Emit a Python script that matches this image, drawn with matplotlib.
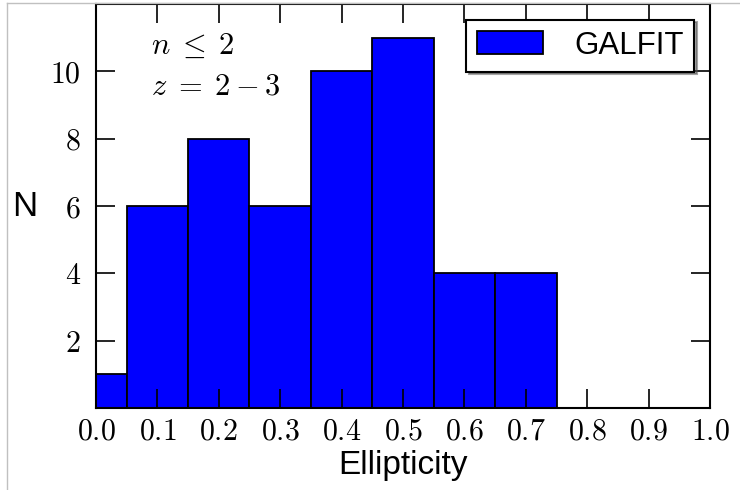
import matplotlib
matplotlib.use("Agg")
import matplotlib.pyplot as plt
from matplotlib.lines import Line2D
import numpy as np

# ellipticity histogram, n <= 2, z = 2-3
bin_edges = [0.0, 0.05, 0.15, 0.25, 0.35, 0.45, 0.55, 0.65, 0.75]
counts = [1, 6, 8, 6, 10, 11, 4, 4]
x_ticks = [0.0, 0.1, 0.2, 0.3, 0.4, 0.5, 0.6, 0.7, 0.8, 0.9, 1.0]
y_ticks = [2, 4, 6, 8, 10]

plt.rcParams['mathtext.fontset'] = 'cm'
plt.rcParams['font.family'] = ['Liberation Sans', 'DejaVu Sans']

fig = plt.figure(figsize=(7.4, 4.9), dpi=100)
ax = fig.add_axes([0.1297, 0.1673, 0.8298, 0.8245])

edges = np.array(bin_edges)
ax.bar(edges[:-1], counts, width=np.diff(edges), align='edge',
       color='#0000ff', edgecolor='black', linewidth=1.3, label='GALFIT')

ax.set_xlim(0, 1.0)
ax.set_ylim(0, 12)
ax.set_xticks(x_ticks)
ax.set_xticklabels(['$%.1f$' % v for v in x_ticks])
ax.set_yticks(y_ticks)
ax.set_yticklabels(['$%d$' % v for v in y_ticks])
ax.tick_params(direction='in', length=14, width=1.2, labelsize=21.5,
               top=True, right=True)
ax.tick_params(axis='x', pad=7)
ax.tick_params(axis='y', pad=11)
for s in ax.spines.values():
    s.set_linewidth(1.5)

ax.set_xlabel('Ellipticity', fontsize=24, labelpad=3)
ax.set_ylabel('N', fontsize=25, rotation=0, labelpad=18, va='center')

ax.text(0.09, 10.75, r'$n\;\leq\;2$', fontsize=22, va='center')
ax.text(0.09, 9.55, r'$z\;=\;2-3$', fontsize=22, va='center')

leg = ax.legend(loc='upper right', fontsize=22.5, shadow=True, fancybox=False,
                handlelength=2.1, handleheight=0.75, borderpad=0.35,
                handletextpad=1.0, framealpha=1, borderaxespad=0.5)
leg.get_frame().set_edgecolor('black')
leg.get_frame().set_linewidth(1.5)

# thin page border on the left and top
fig.add_artist(Line2D([7 / 740, 7 / 740], [0, 1 - 3 / 490], color='#c0c0c0', lw=1))
fig.add_artist(Line2D([7 / 740, 1], [1 - 3 / 490, 1 - 3 / 490], color='#c0c0c0', lw=1))

fig.savefig('out.png', dpi=100)
